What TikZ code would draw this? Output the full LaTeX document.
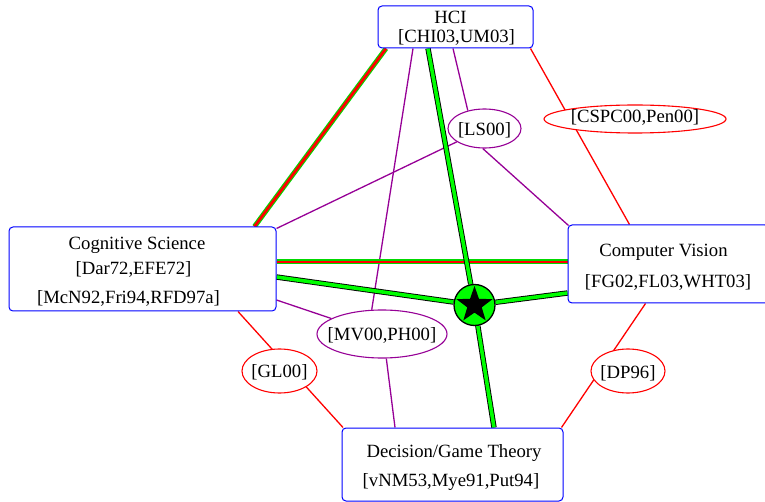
\documentclass[tikz,border=0pt]{standalone}
\usepackage{fontspec}
\setmainfont{Liberation Serif}
\usetikzlibrary{shapes.geometric,calc}
\pgfdeclarelayer{edges}
\pgfsetlayers{edges,main}
\definecolor{linkpurple}{RGB}{150,0,150}
% centred label whose size does not widen the ellipse; #1 lowers the baseline
\newcommand{\elltext}[2][6.3pt]{\makebox[0pt]{\raisebox{-#1}[0pt][0pt]{#2}}}

\begin{document}
\begin{tikzpicture}[x=1pt,y=-1pt,
  every node/.style={font=\fontsize{18.7}{20}\selectfont},
  topic/.style={draw=blue, line width=1pt, rounded corners=4pt, fill=white, inner sep=0pt},
  txt/.style={anchor=base, inner sep=0pt},
  cite/.style={ellipse, fill=white, line width=1.1pt, inner sep=0pt},
  redlink/.style={draw=red, line width=1.3pt},
  purplelink/.style={draw=linkpurple, line width=1.3pt},
  mainlink/.style={draw=black, line width=0.9pt, double=green, double distance=3.6pt},
  bridge/.style={draw=green!85!black, line width=1.1pt, double=red, double distance=2.8pt},
]
\useasboundingbox (0,0) rectangle (765,502);
\clip (0,0) rectangle (765,502);

% topic boxes
\node[topic, minimum width=155pt, minimum height=42pt] (HCI) at (455.5,27) {};
\node[txt] (hciA) at (450.5,23.3) {HCI};
\node[txt] (hciB) at (456.5,42.7) {[CHI03,UM03]};

\node[topic, minimum width=267pt, minimum height=84pt] (Cog) at (142.5,269) {};
\node[txt] (cogA) at (137,250) {Cognitive Science};
\node[txt] (cogB) at (133.5,275) {[Dar72,EFE72]};
\node[txt] (cogC) at (128.5,303.3) {[McN92,Fri94,RFD97a]};

\node[topic, minimum width=201pt, minimum height=78pt] (CV) at (668.5,264) {};
\node[txt] (cvA) at (663.5,256.7) {Computer Vision};
\node[txt] (cvB) at (668,287.7) {[FG02,FL03,WHT03]};

\node[topic, minimum width=221pt, minimum height=73pt] (Dec) at (452.5,464.5) {};
\node[txt] (decA) at (454,457.7) {Decision/Game Theory};
\node[txt] (decB) at (451,486.7) {[vNM53,Mye91,Put94]};

% citation ellipses
\node[cite, draw=linkpurple, minimum width=73pt, minimum height=39pt] (LS) at (484.5,128.5) {\elltext[7.3pt]{[LS00]}};
\node[cite, draw=red, minimum width=182pt, minimum height=28pt] (CSPC) at (635,119) {\elltext[4pt]{[CSPC00,Pen00]}};
\node[cite, draw=red, minimum width=75pt, minimum height=44pt] (GL) at (279.5,371) {\elltext[6.7pt]{[GL00]}};
\node[cite, draw=red, minimum width=74pt, minimum height=44pt] (DP) at (628,371) {\elltext[7pt]{[DP96]}};
\node[cite, draw=linkpurple, minimum width=130pt, minimum height=48pt] (MV) at (382,334) {\elltext[6pt]{[MV00,PH00]}};

% central hub
\node[circle, draw=black, line width=1.3pt, fill=green, minimum size=41pt, inner sep=0pt] (hub) at (474.5,305) {};
\node[star, star points=5, star point ratio=2.5, fill=black, minimum size=38pt, inner sep=0pt] (hubstar) at (hub) {};

\begin{pgfonlayer}{edges}
  % thin red links (the ellipses sit on them)
  \draw[redlink] ($(HCI.south east)+(-3,0)$) -- ($(CV.north west)+(62,0)$);
  \draw[redlink] ($(Cog.south)+(95.5,0)$) -- ($(Dec.north west)+(1.5,0)$);
  \draw[redlink] ($(CV.south west)+(78,0)$) -- ($(Dec.north east)+(-2,0)$);
  % purple links
  \draw[purplelink] ($(HCI.south)+(-2.5,0)$) -- (LS.133);
  \draw[purplelink] (LS) -- ($(Cog.north east)+(0,2)$);
  \draw[purplelink] (LS.-95) -- ($(CV.north west)+(1,1)$);
  \draw[purplelink] ($(HCI.south)+(-42.5,0)$) -- (MV.113);
  \draw[purplelink] (MV.163) -- ($(Cog.east)+(0,31)$);
  \draw[purplelink] (MV.-80) -- ($(Dec.north)+(-57.5,0)$);
  % red/green links
  \draw[bridge] ($(HCI.south)+(-69.5,0)$) -- ($(Cog.north east)+(-22,0)$);
  \draw[bridge] ($(Cog.east)+(0,-7)$) -- ($(CV.west)+(0,-2)$);
  % green links through the hub
  \draw[mainlink] ($(HCI.south)+(-27.5,0)$) -- (hub);
  \draw[mainlink] (hub) -- ($(Dec.north)+(41.5,0)$);
  \draw[mainlink] ($(Cog.east)+(0,8)$) -- (hub);
  \draw[mainlink] (hub) -- ($(CV.west)+(0,29)$);
\end{pgfonlayer}
\end{tikzpicture}
\end{document}
